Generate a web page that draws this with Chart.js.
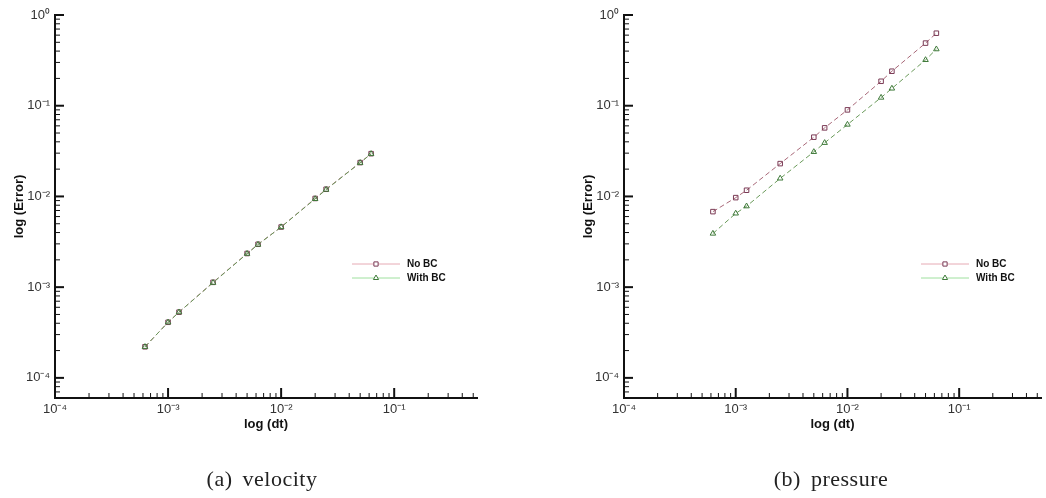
<!DOCTYPE html>
<html>
<head>
<meta charset="utf-8">
<script src="https://cdn.jsdelivr.net/npm/chart.js@4.4.1/dist/chart.umd.min.js"></script>
<style>
  html, body { margin: 0; padding: 0; background: #fff; }
  body { width: 1046px; height: 498px; position: relative; overflow: hidden; }
  .panel { position: absolute; top: 0; height: 498px; }
  .caption {
    position: absolute;
    top: 466px;
    font-family: 'Liberation Serif', serif;
    font-size: 22px;
    color: #222;
    white-space: nowrap;
    transform: translateX(-50%);
    word-spacing: 4px;
    letter-spacing: 0.5px;
  }
</style>
</head>
<body>
<div class="panel" style="left:0;width:523px"><canvas id="velocityChart"></canvas></div>
<div class="panel" style="left:569px;width:477px"><canvas id="pressureChart"></canvas></div>
<div class="caption" style="left:262px">(a) velocity</div>
<div class="caption" style="left:831px">(b) pressure</div>
<script>
const DT = [6.25e-4, 1e-3, 1.25e-3, 2.5e-3, 5e-3, 6.25e-3, 1e-2, 2e-2, 2.5e-2, 5e-2, 6.25e-2]

const VELOCITY_NO_BC = [2.2e-4, 4.1e-4, 5.3e-4, 1.13e-3, 2.35e-3, 2.97e-3, 4.6e-3, 9.5e-3, 1.2e-2, 2.36e-2, 2.96e-2]
const VELOCITY_WITH_BC = [2.2e-4, 4.1e-4, 5.3e-4, 1.12e-3, 2.34e-3, 2.95e-3, 4.6e-3, 9.4e-3, 1.19e-2, 2.35e-2, 2.95e-2]

const PRESSURE_NO_BC = [6.8e-3, 9.7e-3, 1.17e-2, 2.3e-2, 4.5e-2, 5.7e-2, 9.0e-2, 0.186, 0.24, 0.49, 0.63]
const PRESSURE_WITH_BC = [3.9e-3, 6.5e-3, 7.8e-3, 1.58e-2, 3.1e-2, 3.9e-2, 6.2e-2, 0.123, 0.155, 0.32, 0.42]

const SERIES_LABELS = ['No BC', 'With BC']

const X_TICKS = [1e-4, 1e-3, 1e-2, 1e-1]
const X_TICK_LABELS = ['10⁻⁴', '10⁻³', '10⁻²', '10⁻¹']
const Y_TICKS = [1e-4, 1e-3, 1e-2, 1e-1, 1]
const Y_TICK_LABELS = ['10⁻⁴', '10⁻³', '10⁻²', '10⁻¹', '10⁰']

const X_MIN = 1e-4
const X_MAX = 0.54
const Y_MIN = 6e-5
const Y_MAX = 1

const AXIS_FONT = "'Liberation Sans', Arial, sans-serif"

function toPoints(values) {
  return values.map((y, i) => ({ x: DT[i], y }))
}

function forEachLogTick(scale, callback) {
  const lo = Math.floor(Math.log10(scale.min))
  const hi = Math.ceil(Math.log10(scale.max))
  for (let e = lo; e <= hi; e++) {
    for (let k = 1; k <= 9; k++) {
      const v = k * Math.pow(10, e)
      if (v < scale.min * 0.999 || v > scale.max * 1.001) continue
      callback(scale.getPixelForValue(v), k === 1)
    }
  }
}

// ticks point inward, like the original plotting program
const inwardTicks = {
  id: 'inwardTicks',
  afterDraw(chart) {
    const { ctx, chartArea, scales } = chart
    ctx.save()
    ctx.strokeStyle = '#111'
    forEachLogTick(scales.x, (px, major) => {
      ctx.lineWidth = major ? 2 : 1
      ctx.beginPath()
      ctx.moveTo(px, chartArea.bottom)
      ctx.lineTo(px, chartArea.bottom - (major ? 10 : 5))
      ctx.stroke()
    })
    forEachLogTick(scales.y, (py, major) => {
      ctx.lineWidth = major ? 2 : 1
      ctx.beginPath()
      ctx.moveTo(chartArea.left, py)
      ctx.lineTo(chartArea.left + (major ? 9 : 5), py)
      ctx.stroke()
    })
    ctx.restore()
  },
}

const boxLegend = {
  id: 'boxLegend',
  afterDraw(chart) {
    const { ctx, chartArea } = chart
    const x0 = chartArea.left + 297
    ctx.save()
    chart.data.datasets.forEach((ds, i) => {
      const y = chartArea.top + 249 + i * 14
      ctx.strokeStyle = ds.legendLineColor
      ctx.lineWidth = 1
      ctx.setLineDash([])
      ctx.beginPath()
      ctx.moveTo(x0, y)
      ctx.lineTo(x0 + 48, y)
      ctx.stroke()
      ctx.strokeStyle = ds.pointBorderColor
      ctx.fillStyle = '#fff'
      Chart.helpers.drawPoint(ctx, { pointStyle: ds.pointStyle, radius: 3, borderWidth: 1, rotation: 0 }, x0 + 24, y)
      ctx.fillStyle = '#111'
      ctx.font = `bold 10px ${AXIS_FONT}`
      ctx.textBaseline = 'middle'
      ctx.fillText(ds.label, x0 + 55, y)
    })
    ctx.restore()
  },
}

function makeDatasets(noBc, withBc) {
  return [
    {
      label: SERIES_LABELS[0],
      data: toPoints(noBc),
      order: 1,
      borderColor: '#a86878',
      borderWidth: 1,
      borderDash: [5, 3],
      pointStyle: 'rect',
      pointRadius: 3.2,
      pointBorderColor: '#7a3a55',
      pointBackgroundColor: 'rgba(255,255,255,0)',
      pointBorderWidth: 1,
      legendLineColor: '#e6aab4',
      tension: 0,
    },
    {
      label: SERIES_LABELS[1],
      data: toPoints(withBc),
      order: 0,
      borderColor: '#6a9a5a',
      borderWidth: 1,
      borderDash: [5, 3],
      pointStyle: 'triangle',
      pointRadius: 3.2,
      pointBorderColor: '#3f7a3a',
      pointBackgroundColor: 'rgba(255,255,255,0)',
      pointBorderWidth: 1,
      legendLineColor: '#9ee09e',
      tension: 0,
    },
  ]
}

function makeChart(canvasId, noBc, withBc, rightPad) {
  const canvas = document.getElementById(canvasId)
  return new Chart(canvas, {
    type: 'line',
    data: { datasets: makeDatasets(noBc, withBc) },
    options: {
      responsive: true,
      maintainAspectRatio: false,
      animation: false,
      layout: { padding: { top: 15, right: rightPad, left: 0, bottom: 0 } },
      plugins: {
        legend: { display: false },
        tooltip: { enabled: false },
      },
      scales: {
        x: {
          type: 'logarithmic',
          min: X_MIN,
          max: X_MAX,
          afterBuildTicks: (scale) => {
            scale.ticks = X_TICKS.map((value) => ({ value }))
          },
          afterFit: (scale) => {
            scale.height = 100
          },
          grid: { display: false, drawTicks: false },
          border: { display: true, color: '#111', width: 2 },
          ticks: {
            autoSkip: false,
            maxRotation: 0,
            padding: 4,
            color: '#333',
            font: { family: AXIS_FONT, size: 13 },
            callback: (value) => X_TICK_LABELS[X_TICKS.findIndex((t) => Math.abs(t - value) < t * 1e-6)] ?? '',
          },
          title: {
            display: true,
            text: 'log (dt)',
            color: '#111',
            font: { family: AXIS_FONT, size: 13, weight: 'bold' },
            padding: { top: 0, bottom: 66 },
          },
        },
        y: {
          type: 'logarithmic',
          min: Y_MIN,
          max: Y_MAX,
          afterBuildTicks: (scale) => {
            scale.ticks = Y_TICKS.map((value) => ({ value }))
          },
          afterFit: (scale) => {
            scale.width = 55
          },
          grid: { display: false, drawTicks: false },
          border: { display: true, color: '#111', width: 2 },
          ticks: {
            autoSkip: false,
            padding: 5,
            color: '#333',
            font: { family: AXIS_FONT, size: 13 },
            callback: (value) => Y_TICK_LABELS[Y_TICKS.findIndex((t) => Math.abs(t - value) < t * 1e-6)] ?? '',
          },
          title: {
            display: true,
            text: 'log (Error)',
            color: '#111',
            font: { family: AXIS_FONT, size: 13, weight: 'bold' },
            padding: { top: 12, bottom: 0 },
          },
        },
      },
    },
    plugins: [inwardTicks, boxLegend],
  })
}

makeChart('velocityChart', VELOCITY_NO_BC, VELOCITY_WITH_BC, 46)
makeChart('pressureChart', PRESSURE_NO_BC, PRESSURE_WITH_BC, 1)
</script>
</body>
</html>
